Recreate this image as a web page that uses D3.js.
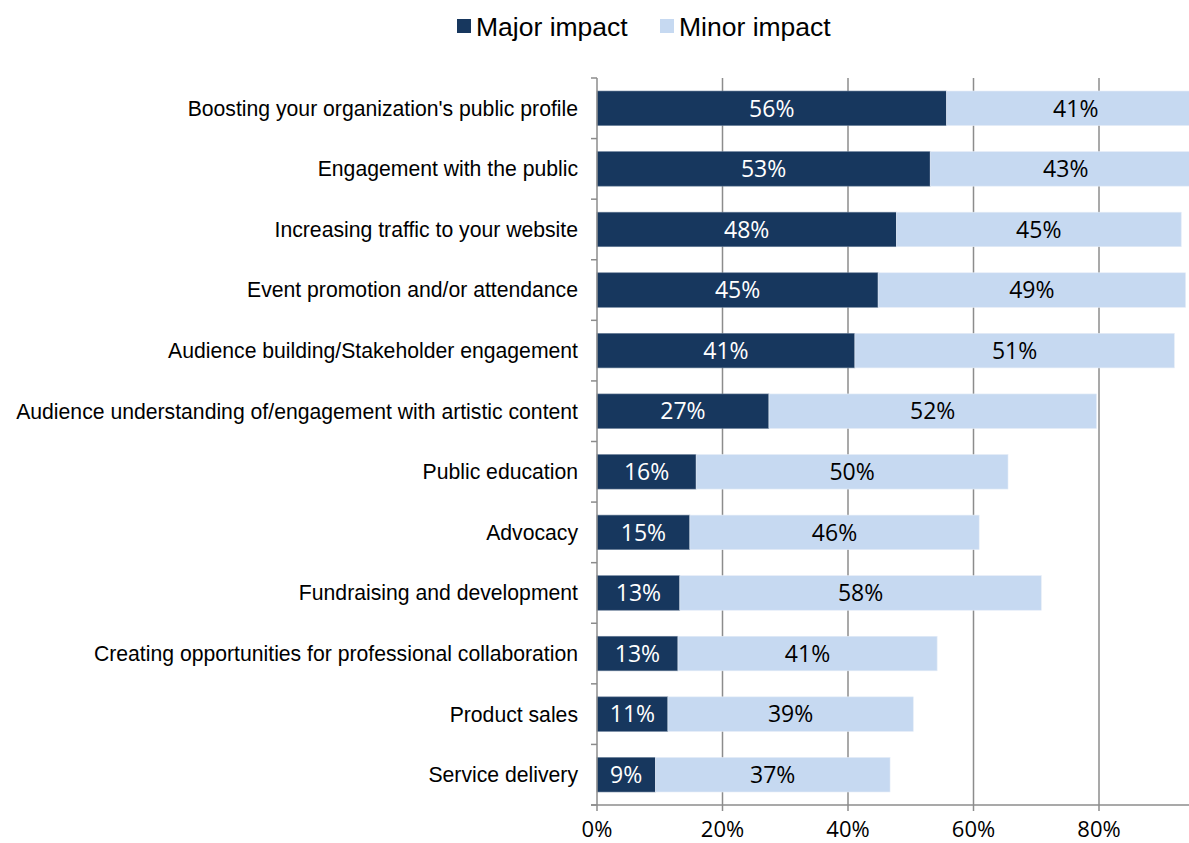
<!DOCTYPE html>
<html><head><meta charset="utf-8">
<script src="https://cdn.jsdelivr.net/npm/d3@7"></script>
<style>body{margin:0;background:#fff}svg{display:block}</style>
</head><body>
<svg id="c" width="1189" height="843"></svg>
<script>
const categories = [
  "Boosting your organization's public profile",
  "Engagement with the public",
  "Increasing traffic to your website",
  "Event promotion and/or attendance",
  "Audience building/Stakeholder engagement",
  "Audience understanding of/engagement with artistic content",
  "Public education",
  "Advocacy",
  "Fundraising and development",
  "Creating opportunities for professional collaboration",
  "Product sales",
  "Service delivery"
];
const majorImpact = [55.7, 53.1, 47.7, 44.8, 41.1, 27.4, 15.8, 14.8, 13.2, 12.9, 11.3, 9.3];
const minorImpact = [41.2, 43.2, 45.4, 49.0, 50.9, 52.2, 49.7, 46.1, 57.6, 41.3, 39.1, 37.4];
const seriesNames = ["Major impact", "Minor impact"];
const xTicks = [0, 20, 40, 60, 80];

(function () {
const colors = ["#17375e", "#c6d9f1"];
const svg = d3.select("#c");
const pLeft = 597, pTop = 78, pBottom = 805;
const x = d3.scaleLinear().domain([0, 80]).range([pLeft, 1099]);
const y = d3.scaleBand().domain(categories).range([pTop, pBottom]).paddingInner(0.43).paddingOuter(0.215);
const yb = d3.scaleBand().domain(categories).range([pTop, pBottom]);

// gridlines
svg.append("g").selectAll("line").data(xTicks.filter(d => d > 0)).join("line")
  .attr("x1", d => x(d)).attr("x2", d => x(d)).attr("y1", pTop).attr("y2", pBottom)
  .attr("stroke", "#8c8c8c").attr("stroke-width", 1.5);

const rows = categories.map((c, i) => ({c, a: majorImpact[i], b: minorImpact[i]}));

// bars
const g = svg.append("g");
g.selectAll("rect.maj").data(rows).join("rect").attr("class", "maj")
  .attr("x", x(0)).attr("y", d => y(d.c)).attr("width", d => x(d.a) - x(0)).attr("height", y.bandwidth())
  .attr("fill", colors[0]).attr("stroke", "#6a7f99").attr("stroke-width", 0.6);
g.selectAll("rect.min").data(rows).join("rect").attr("class", "min")
  .attr("x", d => x(d.a)).attr("y", d => y(d.c)).attr("width", d => x(d.a + d.b) - x(d.a)).attr("height", y.bandwidth())
  .attr("fill", colors[1]).attr("stroke", "#e4ecf7").attr("stroke-width", 0.6);

// value labels
const vf = "'Open Sans', 'Noto Sans', sans-serif";
g.selectAll("text.maj").data(rows).join("text").attr("class", "maj")
  .attr("x", d => (x(0) + x(d.a)) / 2).attr("y", d => y(d.c) + y.bandwidth() / 2)
  .attr("dy", "0.36em").attr("text-anchor", "middle").attr("fill", "#fff")
  .style("font-family", vf).style("font-size", "23px")
  .text(d => Math.round(d.a) + "%");
g.selectAll("text.min").data(rows).join("text").attr("class", "min")
  .attr("x", d => (x(d.a) + x(d.a + d.b)) / 2).attr("y", d => y(d.c) + y.bandwidth() / 2)
  .attr("dy", "0.36em").attr("text-anchor", "middle").attr("fill", "#000")
  .style("font-family", vf).style("font-size", "23px")
  .text(d => Math.round(d.b) + "%");

// left axis line with ticks at band boundaries
const axCol = "#8c8c8c";
svg.append("line").attr("x1", pLeft).attr("x2", pLeft).attr("y1", pTop).attr("y2", pBottom)
  .attr("stroke", axCol).attr("stroke-width", 1.5);
const bounds = categories.map(c => yb(c)).concat([pBottom]);
svg.append("g").selectAll("line").data(bounds).join("line")
  .attr("x1", pLeft - 6).attr("x2", pLeft).attr("y1", d => d).attr("y2", d => d)
  .attr("stroke", axCol).attr("stroke-width", 1.5);

// bottom axis
svg.append("line").attr("x1", pLeft - 6).attr("x2", 1189).attr("y1", pBottom).attr("y2", pBottom)
  .attr("stroke", axCol).attr("stroke-width", 1.5);
svg.append("g").selectAll("line").data(xTicks).join("line")
  .attr("x1", d => x(d)).attr("x2", d => x(d)).attr("y1", pBottom).attr("y2", pBottom + 6)
  .attr("stroke", axCol).attr("stroke-width", 1.5);
svg.append("g").selectAll("text").data(xTicks).join("text")
  .attr("x", d => x(d)).attr("y", 836.5).attr("text-anchor", "middle")
  .style("font-family", vf).style("font-size", "22px").attr("fill", "#000")
  .text(d => d + "%");

// category labels
svg.append("g").selectAll("text").data(categories).join("text")
  .attr("x", 578).attr("y", d => yb(d) + yb.bandwidth() / 2).attr("dy", "0.35em")
  .attr("text-anchor", "end").style("font-family", "'Liberation Sans', Arial, sans-serif")
  .style("font-size", "21.2px").attr("fill", "#000").text(d => d);

// legend
const lg = svg.append("g");
const legX = [457, 660];
seriesNames.forEach((n, i) => {
  lg.append("rect").attr("x", legX[i]).attr("y", 19).attr("width", 14).attr("height", 14).attr("fill", colors[i]);
  lg.append("text").attr("x", legX[i] + 19).attr("y", 26).attr("dy", "0.36em")
    .style("font-family", "'Liberation Sans', Arial, sans-serif").style("font-size", "26.5px")
    .attr("fill", "#000").text(n);
});
})();
</script>
</body></html>
